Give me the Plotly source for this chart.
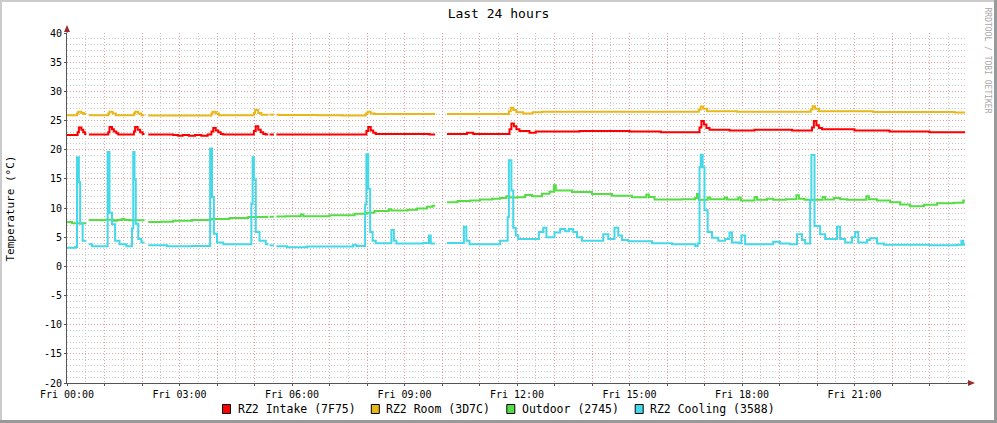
import plotly.graph_objects as go
import pandas as pd

# ---------------- data ----------------
BASE = pd.Timestamp("2024-01-05 00:00")  # a Friday
# (start_minute, end_minute) of missing data, common to all series
GAPS = [(31, 35), (124, 130), (322, 324), (331, 335), (589, 608)]

# (minute since 00:00, value in °C); values hold until the next point
INTAKE = [(0, 22.5), (17, 23.0), (19, 23.8), (23, 23.4), (26, 23.0), (29, 22.7), (35, 22.6),
          (66, 23.0), (68, 23.9), (72, 23.5), (75, 23.1), (79, 22.8), (82, 22.6),
          (107, 23.1), (109, 23.9), (113, 23.4), (117, 23.0), (121, 22.7), (130, 22.6),
          (170, 22.5), (178, 22.4), (185, 22.5), (195, 22.4), (205, 22.5), (215, 22.4), (225, 22.6),
          (231, 23.1), (234, 23.7), (238, 23.3), (242, 23.0), (246, 22.7), (250, 22.6),
          (299, 23.2), (302, 24.0), (306, 23.4), (310, 23.0), (314, 22.7), (318, 22.6),
          (479, 23.2), (482, 23.9), (486, 23.3), (490, 22.9), (494, 22.7), (580, 22.6),
          (608, 22.7), (640, 22.9), (650, 22.7),
          (708, 23.5), (711, 24.5), (715, 24.0), (719, 23.5), (724, 23.2), (740, 22.9), (750, 23.1),
          (820, 23.2), (900, 23.1), (950, 23.0),
          (1012, 23.8), (1015, 24.9), (1019, 24.3), (1023, 23.7), (1028, 23.4), (1060, 23.3),
          (1100, 23.4), (1160, 23.3),
          (1192, 23.8), (1195, 24.9), (1199, 24.2), (1203, 23.7), (1208, 23.5), (1260, 23.3),
          (1316, 23.1), (1380, 23.0), (1437, 23.0)]

ROOM = [(0, 25.9), (16, 26.2), (18, 26.5), (23, 26.3), (27, 26.1), (35, 25.9),
        (66, 26.2), (68, 26.5), (73, 26.2), (78, 25.9),
        (107, 26.2), (109, 26.5), (114, 26.2), (119, 25.9), (130, 25.85),
        (231, 26.2), (233, 26.5), (238, 26.2), (243, 25.9),
        (299, 26.3), (301, 26.8), (306, 26.3), (311, 26.0), (340, 25.95), (400, 25.9), (440, 25.85),
        (478, 26.2), (481, 26.5), (486, 26.2), (492, 26.1), (608, 26.1),
        (707, 26.6), (710, 27.2), (714, 26.8), (719, 26.4), (730, 26.2), (745, 26.4), (760, 26.5),
        (1011, 26.9), (1014, 27.4), (1018, 27.0), (1024, 26.6), (1072, 26.5),
        (1190, 26.9), (1193, 27.45), (1197, 27.0), (1203, 26.6), (1290, 26.45), (1420, 26.35),
        (1437, 26.35)]

OUTDOOR = [(0, 7.6), (8, 7.4), (35, 7.95), (55, 7.9), (60, 8.0), (75, 7.8), (80, 7.95), (88, 8.1),
           (92, 7.95), (100, 7.9), (130, 7.6), (150, 7.65), (170, 7.8), (200, 7.95), (230, 8.1),
           (260, 8.3), (290, 8.45), (320, 8.5), (335, 8.55), (350, 8.6), (374, 8.9), (378, 8.6),
           (420, 8.75), (460, 9.0), (480, 9.2), (492, 9.5), (515, 9.8), (519, 9.55), (545, 9.7),
           (560, 9.9), (576, 10.2), (585, 10.4), (608, 11.0), (625, 11.2), (645, 11.3), (661, 11.45),
           (680, 11.6), (693, 11.7), (703, 12.0), (708, 11.8), (720, 11.85), (733, 12.25), (744, 12.0),
           (760, 12.45), (772, 12.8), (779, 13.9), (782, 13.0), (808, 12.75), (840, 12.4), (872, 12.1),
           (904, 11.85), (927, 12.3), (931, 11.9), (940, 11.45), (984, 11.5), (1005, 11.7), (1008, 12.4),
           (1011, 11.4), (1025, 11.8), (1029, 11.5), (1052, 11.8), (1056, 11.45), (1074, 11.8),
           (1078, 11.3), (1100, 11.9), (1104, 11.4), (1120, 11.6), (1130, 11.4), (1150, 11.5),
           (1167, 12.2), (1171, 11.6), (1180, 11.4), (1209, 11.9), (1213, 11.45), (1227, 11.7),
           (1237, 11.5), (1248, 11.4), (1279, 12.0), (1283, 11.5), (1296, 11.3), (1317, 11.0),
           (1333, 10.6), (1349, 10.3), (1371, 10.55), (1392, 10.8), (1419, 10.9), (1434, 11.3),
           (1437, 11.3)]

COOLING = [(0, 3.2), (13, 3.3), (16, 18.7), (19, 14.4), (21, 7.3), (25, 4.4), (35, 3.8), (40, 3.45),
           (65, 19.6), (68, 9.2), (72, 7.2), (77, 4.4), (84, 3.8), (95, 3.45),
           (104, 6.5), (106, 19.6), (108, 14.9), (110, 7.3), (114, 4.7), (119, 4.1), (130, 3.6),
           (160, 3.45), (200, 3.5), (229, 20.2), (232, 11.9), (235, 5.6), (240, 4.1), (250, 3.8),
           (295, 10.7), (297, 18.7), (299, 14.9), (302, 5.9), (308, 4.4), (318, 3.8), (324, 3.6),
           (335, 3.45), (352, 3.27), (384, 3.4), (455, 3.4), (458, 3.7), (463, 3.5),
           (477, 10.6), (479, 19.2), (482, 13.3), (485, 5.9), (489, 4.4), (494, 3.97),
           (519, 6.25), (523, 4.4), (527, 3.9), (570, 4.0), (579, 5.3), (582, 3.9), (608, 4.0),
           (635, 6.8), (639, 4.4), (644, 3.8), (693, 4.4), (705, 8.4), (707, 18.2), (711, 13.0),
           (714, 6.6), (718, 5.3), (722, 4.7), (752, 4.7), (755, 5.9), (762, 6.6), (767, 5.0),
           (780, 5.8), (789, 6.4), (797, 6.0), (803, 6.4), (810, 5.9), (816, 5.0), (824, 4.4),
           (858, 5.5), (866, 4.7), (876, 6.6), (882, 5.3), (888, 4.5), (898, 4.3), (936, 3.95),
           (968, 3.8), (1005, 3.5), (1009, 3.9), (1012, 17.0), (1014, 19.15), (1017, 17.0),
           (1020, 9.6), (1025, 5.9), (1032, 4.9), (1042, 4.4), (1053, 4.7), (1060, 5.8), (1064, 4.1),
           (1075, 3.95), (1079, 5.3), (1085, 3.8), (1130, 4.2), (1141, 3.9), (1157, 3.8),
           (1168, 5.5), (1176, 4.5), (1181, 3.9), (1189, 11.3), (1191, 19.1), (1196, 6.9),
           (1205, 5.5), (1213, 4.7), (1232, 6.8), (1237, 4.7), (1245, 4.1), (1256, 5.0), (1261, 5.9),
           (1266, 4.1), (1280, 4.5), (1285, 4.8), (1296, 3.9), (1307, 3.7), (1380, 3.6), (1424, 3.7),
           (1431, 4.4), (1434, 3.7), (1437, 3.7)]

SERIES = [INTAKE, ROOM, OUTDOOR, COOLING]
SERIES_NAMES = ["RZ2 Intake (7F75)", "RZ2 Room (3D7C)", "Outdoor (2745)", "RZ2 Cooling (3588)"]
SERIES_COLORS = ["#ff0000", "#e8b818", "#55dd44", "#44d8e8"]
Y_TICKS = list(range(-20, 45, 5))
X_TICK_HOURS = list(range(0, 24))
X_LABEL_EVERY = 3

FONT = "DejaVu Sans Mono"


def with_gaps(pairs, gaps):
    pts = sorted(pairs)

    def val_at(t):
        v = None
        for tt, vv in pts:
            if tt <= t:
                v = vv
            else:
                break
        return v

    times = {t for t, _ in pts}
    out = [(t, 0, v) for t, v in pts if not any(s < t < e for s, e in gaps)]
    for s, e in gaps:
        out.append((s, 0, val_at(s)))
        out.append((s, 1, None))
        if e not in times:
            out.append((e, 0, val_at(e)))
    out.sort(key=lambda r: (r[0], r[1]))
    xs = [(BASE + pd.Timedelta(minutes=t)).strftime("%Y-%m-%d %H:%M:%S") for t, _, _ in out]
    ys = [v for _, _, v in out]
    return xs, ys


fig = go.Figure()
for pairs, name, color in zip(SERIES, SERIES_NAMES, SERIES_COLORS):
    xs, ys = with_gaps(pairs, GAPS)
    fig.add_trace(go.Scatter(x=xs, y=ys, mode="lines", name=name, showlegend=False,
                             connectgaps=False,
                             line=dict(color=color, width=2, shape="hv")))

# ---------------- layout ----------------
L, T, W, H = 67, 33, 900, 350
B = T + H


def px(xp):
    return (xp - L) / W


def py(yp):
    return (B - yp) / H


MINOR = "#c9c9c9"
MAJOR = "#e49c9c"
AXIS = "#555555"
ARROW = "#9b2c2c"
DOTS = "1px,2px"

tickvals = [(BASE + pd.Timedelta(hours=h)).strftime("%Y-%m-%d %H:%M:%S") for h in X_TICK_HOURS]
ticktext = [(BASE + pd.Timedelta(hours=h)).strftime("%a %H:%M") if h % X_LABEL_EVERY == 0 else ""
            for h in X_TICK_HOURS]

fig.update_layout(
    width=997, height=423,
    margin=dict(l=L, r=997 - L - W, t=T, b=423 - B),
    paper_bgcolor="white", plot_bgcolor="white",
    font=dict(family=FONT, color="black", size=10),
    title=dict(text="Last 24 hours", x=0.5, xref="container", xanchor="center",
               y=1 - 13.5 / 423, yref="container", yanchor="middle",
               font=dict(family=FONT, size=13, color="black")),
    xaxis=dict(type="date",
               range=[BASE.strftime("%Y-%m-%d %H:%M:%S"),
                      (BASE + pd.Timedelta(hours=24)).strftime("%Y-%m-%d %H:%M:%S")],
               tickmode="array", tickvals=tickvals, ticktext=ticktext,
               showgrid=True, gridcolor=MAJOR, griddash=DOTS, gridwidth=1,
               minor=dict(dtick=30 * 60 * 1000, tick0=BASE.strftime("%Y-%m-%d %H:%M:%S"),
                          showgrid=True, gridcolor=MINOR, griddash=DOTS, gridwidth=1),
               showline=True, linecolor=AXIS, linewidth=1,
               ticks="outside", ticklen=2, tickcolor=AXIS,
               tickfont=dict(family=FONT, size=10, color="black"),
               zeroline=False, fixedrange=True),
    yaxis=dict(range=[-20, 40], tickmode="array", tickvals=Y_TICKS,
               ticktext=[str(v) for v in Y_TICKS],
               showgrid=True, gridcolor=MAJOR, griddash=DOTS, gridwidth=1,
               minor=dict(dtick=1, tick0=-20, showgrid=True, gridcolor=MINOR,
                          griddash=DOTS, gridwidth=1),
               showline=True, linecolor=AXIS, linewidth=1,
               ticks="outside", ticklen=2, tickcolor=AXIS,
               tickfont=dict(family=FONT, size=10, color="black"),
               zeroline=False, fixedrange=True),
)

shapes = []
# axis extensions and arrows
shapes.append(dict(type="line", xref="paper", yref="paper", x0=0, x1=0, y0=1, y1=py(28),
                   line=dict(color=AXIS, width=1)))
shapes.append(dict(type="path", xref="paper", yref="paper",
                   path=f"M {px(67)},{py(25)} L {px(64)},{py(32)} L {px(70)},{py(32)} Z",
                   fillcolor=ARROW, line=dict(color=ARROW, width=0)))
shapes.append(dict(type="line", xref="paper", yref="paper", x0=1, x1=px(971), y0=0, y1=0,
                   line=dict(color=AXIS, width=1)))
shapes.append(dict(type="path", xref="paper", yref="paper",
                   path=f"M {px(975)},{py(383)} L {px(968)},{py(380)} L {px(968)},{py(386)} Z",
                   fillcolor=ARROW, line=dict(color=ARROW, width=0)))
# frame bands (shade)
shapes.append(dict(type="rect", xref="paper", yref="paper", x0=px(0), x1=px(997), y0=py(0), y1=py(2),
                   fillcolor="#cbcbcb", line=dict(width=0), layer="above"))
shapes.append(dict(type="rect", xref="paper", yref="paper", x0=px(0), x1=px(2), y0=py(0), y1=py(423),
                   fillcolor="#cbcbcb", line=dict(width=0), layer="above"))
shapes.append(dict(type="rect", xref="paper", yref="paper", x0=px(994), x1=px(997), y0=py(0), y1=py(423),
                   fillcolor="#999999", line=dict(width=0), layer="above"))
shapes.append(dict(type="rect", xref="paper", yref="paper", x0=px(0), x1=px(997), y0=py(420), y1=py(423),
                   fillcolor="#999999", line=dict(width=0), layer="above"))

annotations = []
# legend: swatches + text
swatch_x = [222.5, 371.3, 506.8, 635.2]
for sx, name, color in zip(swatch_x, SERIES_NAMES, SERIES_COLORS):
    shapes.append(dict(type="rect", xref="paper", yref="paper",
                       x0=px(sx), x1=px(sx + 8), y0=py(404.5), y1=py(413.5),
                       fillcolor=color, line=dict(color="black", width=1)))
    annotations.append(dict(text=name, xref="paper", yref="paper", x=px(sx + 13), y=py(409),
                            xanchor="left", yanchor="middle", showarrow=False,
                            font=dict(family=FONT, size=11.5, color="black")))

annotations.append(dict(text="Temperature (°C)", xref="paper", yref="paper", x=px(9.5), y=py(209),
                        xanchor="center", yanchor="middle", textangle=-90, showarrow=False,
                        font=dict(family=FONT, size=11, color="black")))
annotations.append(dict(text="RRDTOOL / TOBI OETIKER", xref="paper", yref="paper", x=px(987.5),
                        y=py(60), xanchor="center", yanchor="middle", textangle=90, showarrow=False,
                        font=dict(family=FONT, size=8, color="#a8a8a8")))

fig.update_layout(shapes=shapes, annotations=annotations)

fig.write_html("out.html", config={"displayModeBar": False},
               post_script="document.body.style.margin='0';document.body.style.padding='0';")
